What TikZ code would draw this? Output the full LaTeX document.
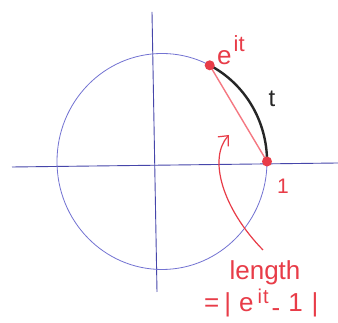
\documentclass[tikz,border=0pt]{standalone}
\usepackage{fontspec}
\setmainfont{Liberation Sans}
\usetikzlibrary{arrows.meta,calc}
\definecolor{axisblue}{RGB}{70,70,170}
\definecolor{circblue}{RGB}{115,115,210}
\definecolor{penred}{RGB}{232,60,72}
\definecolor{chordred}{RGB}{245,120,130}
\tikzset{
  axisline/.style={draw=axisblue, line width=0.9pt},
  dotmark/.style={circle, fill=penred, inner sep=0pt, minimum size=10pt},
  redlabel/.style={text=penred, font=\fontsize{26}{28}\selectfont, inner sep=0pt}
}
\begin{document}
\begin{tikzpicture}[x=1pt,y=1pt]
\useasboundingbox (0,0) rectangle (338,323);
\fill[white] (0,0) rectangle (338,323);
\coordinate (O) at (162,161.5);
\coordinate (xl) at (12,156);
\coordinate (xr) at (338,160);
\coordinate (yt) at (152,311);
\coordinate (yb) at (157,31);
\draw[axisline] (xl) -- (xr);
\draw[axisline] (yt) -- (yb);
\draw[draw=circblue, line width=0.8pt] (O) ellipse[x radius=105, y radius=108];
\coordinate (Pe) at ($(O)+(47.7,96.2)$);
\coordinate (P1) at ($(O)+(105,0)$);
\draw[chordred, line width=1.4pt] (Pe) -- (P1);
\draw[black!85, line width=2.4pt] (Pe) arc[start angle=63, end angle=0, x radius=105, y radius=108];
\node[dotmark] (dPe) at (Pe) {};
\node[dotmark] (dP1) at (P1) {};
\node[redlabel, anchor=base west] (le) at (217,258) {e\kern2pt\raisebox{13pt}{\fontsize{22}{24}\selectfont it}};
\node[text=black!85, font=\fontsize{24}{26}\selectfont, inner sep=0pt, anchor=base] (lt) at (272,216) {t};
\node[redlabel, font=\fontsize{21}{23}\selectfont, anchor=base] (l1) at (283,129) {1};
\node[redlabel, anchor=base] (llen) at (265,43) {length};
\node[redlabel, anchor=base west] (lval) at (204,11) {=\kern5pt|\kern8pt e\kern4pt\raisebox{8pt}{\fontsize{20}{22}\selectfont i\kern1pt t}\kern3pt\raisebox{-5pt}{-}\kern8pt 1\kern9pt|};
\coordinate (atail) at (263,73);
\coordinate (ahead) at (229,188);
\draw[penred, line width=1.2pt, -{Straight Barb[length=8pt,width=14pt]}] (atail) .. controls (222,115) and (208,165) .. (ahead);
\end{tikzpicture}
\end{document}
